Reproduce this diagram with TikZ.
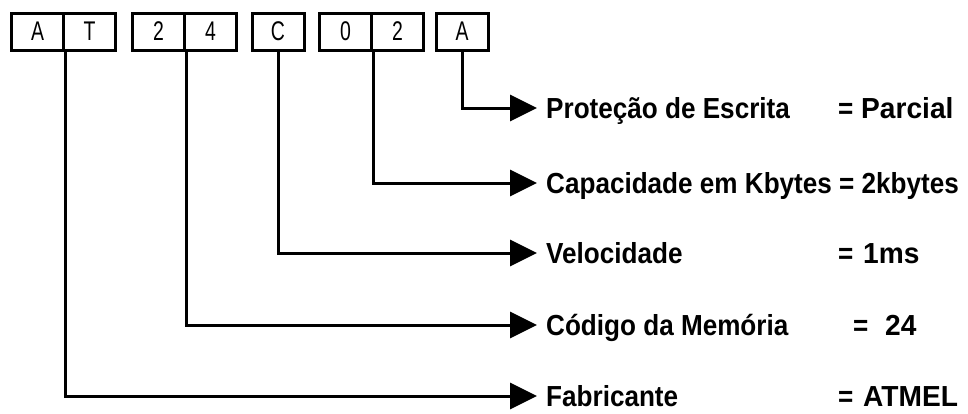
\documentclass[tikz,border=0pt]{standalone}
\usepackage{fontspec}
\setmainfont{Liberation Sans}
\newfontfamily\labfont{Liberation Sans}[FakeStretch=0.9]
\newfontfamily\valfont{Liberation Sans}[FakeStretch=0.97]
\newfontfamily\boxfont{Liberation Sans}[FakeStretch=0.72]
\usetikzlibrary{arrows.meta}
\begin{document}
\begin{tikzpicture}[x=1pt,y=-1pt,
 cell/.style={draw, line width=3pt, minimum width=52pt, minimum height=37pt, inner sep=0pt, font=\boxfont\fontsize{27pt}{30pt}\selectfont},
 lab/.style={anchor=base west, inner sep=0pt, font=\labfont\bfseries\fontsize{29pt}{32pt}\selectfont},
 val/.style={anchor=base west, inner sep=0pt, font=\valfont\bfseries\fontsize{29pt}{32pt}\selectfont},
 conn/.style={line width=3pt, line join=miter, -{Triangle[length=27pt,width=26pt]}}]
\useasboundingbox (0,0) rectangle (968,413);
% code boxes
\node[cell] (a1) at (37.5,31.5) {A};
\node[cell] (t1) at (89.5,31.5) {T};
\node[cell] (n2) at (158.5,31.5) {2};
\node[cell] (n4) at (210.5,31.5) {4};
\node[cell] (cc) at (278,31.5) {C};
\node[cell] (n0) at (345.5,31.5) {0};
\node[cell] (n2b) at (397.5,31.5) {2};
\node[cell] (a2) at (462,31.5) {A};
% arrow ends
\coordinate (e1) at (537,108);
\coordinate (e2) at (537,183);
\coordinate (e3) at (537,253);
\coordinate (e4) at (537,325);
\coordinate (e5) at (537,396);
% connectors
\draw[conn] (a2.south) |- (e1);
\draw[conn] (n0.south east) |- (e2);
\draw[conn] (cc.south) |- (e3);
\draw[conn] (n2.south east) |- (e4);
\draw[conn] (a1.south east) |- (e5);
% labels
\node[lab] (l1) at (546,118.5) {Proteção de Escrita};
\node[lab] (q1) at (838,118.5) {=};
\node[val] (v1) at (861,118.5) {Parcial};
\node[lab] (l2) at (546,193.5) {Capacidade em Kbytes = 2kbytes};
\node[lab] (l3) at (546,263.5) {Velocidade};
\node[lab] (q3) at (838,263.5) {=};
\node[val] (v3) at (863,263.5) {1ms};
\node[lab] (l4) at (546,335.5) {Código da Memória};
\node[lab] (q4) at (853,335.5) {=};
\node[val] (v4) at (885,335.5) {24};
\node[lab] (l5) at (546,406.5) {Fabricante};
\node[lab] (q5) at (838,406.5) {=};
\node[val] (v5) at (863,406.5) {ATMEL};
\end{tikzpicture}
\end{document}
